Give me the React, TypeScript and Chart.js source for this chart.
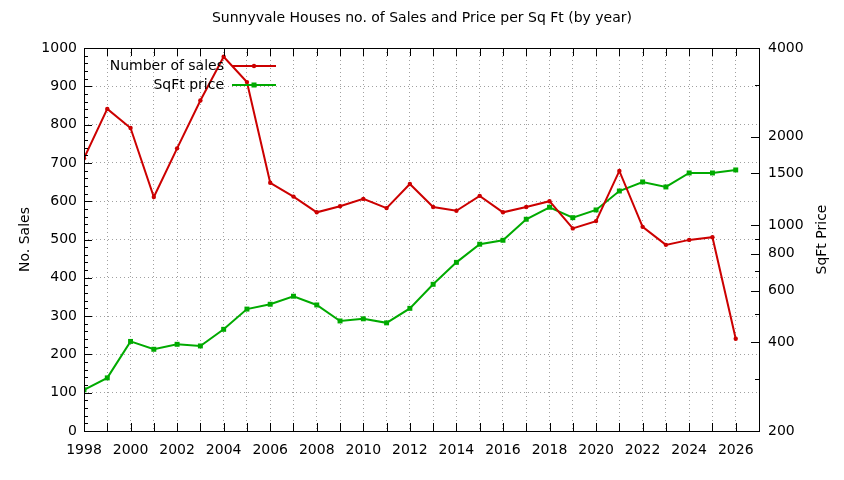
import React, { useRef, useEffect } from "react";
import { Chart, registerables } from "chart.js";

Chart.register(...registerables);

const years = [
  1998, 1999, 2000, 2001, 2002, 2003, 2004, 2005, 2006, 2007, 2008, 2009, 2010, 2011, 2012,
  2013, 2014, 2015, 2016, 2017, 2018, 2019, 2020, 2021, 2022, 2023, 2024, 2025, 2026,
];
const numberOfSales = [
  712, 841, 791, 611, 738, 863, 977, 911, 648, 612, 571, 587, 606, 582, 645,
  585, 575, 614, 571, 585, 600, 529, 548, 679, 533, 486, 499, 506, 241,
];
const sqftPrice = [
  276, 303, 403, 379, 394, 389, 443, 519, 539, 574, 536, 473, 481, 466, 522,
  630, 748, 862, 889, 1048, 1151, 1061, 1127, 1307, 1403, 1349, 1505, 1505, 1541,
];
const priceTicks = [200, 300, 400, 500, 600, 700, 800, 900, 1000, 1500, 2000, 3000, 4000];
const priceLabels = [200, 400, 600, 800, 1000, 1500, 2000, 4000];

const FONT = "DejaVu Sans";
const RED = "#cc0000";
const GREEN = "#00aa00";
const GRID = "#a0a0a0";

// gnuplot style frame: border box, inward ticks, axis titles, inner legend
const framePlugin = {
  id: "frame",
  afterDatasetsDraw(chart: any) {
    const { ctx, chartArea: a, scales } = chart;
    const px = (v: number) => Math.round(v) + 0.5;
    ctx.save();
    ctx.strokeStyle = "#000";
    ctx.lineWidth = 1;
    ctx.beginPath();
    // left axis ticks
    for (let v = 0; v <= 1000; v += 20) {
      const y = px(scales.y.getPixelForValue(v));
      ctx.moveTo(a.left, y);
      ctx.lineTo(a.left + (v % 100 === 0 ? 8 : 4), y);
    }
    // right axis ticks
    priceTicks.forEach((v) => {
      const y = px(scales.y1.getPixelForValue(v));
      ctx.moveTo(a.right, y);
      ctx.lineTo(a.right - (priceLabels.includes(v) ? 8 : 4), y);
    });
    // bottom and top ticks
    for (let yr = 1998; yr <= 2026; yr++) {
      const x = px(scales.x.getPixelForValue(yr));
      ctx.moveTo(x, a.bottom);
      ctx.lineTo(x, a.bottom - 8);
      ctx.moveTo(x, a.top);
      ctx.lineTo(x, a.top + 8);
    }
    ctx.stroke();
    ctx.strokeRect(px(a.left), px(a.top), Math.round(a.right - a.left), Math.round(a.bottom - a.top));

    // axis titles
    ctx.fillStyle = "#000";
    ctx.font = `14px "${FONT}"`;
    ctx.textAlign = "center";
    ctx.textBaseline = "middle";
    const midY = (a.top + a.bottom) / 2;
    ctx.save();
    ctx.translate(25, midY);
    ctx.rotate(-Math.PI / 2);
    ctx.fillText("No. Sales", 0, 0);
    ctx.restore();
    ctx.save();
    ctx.translate(822, midY);
    ctx.rotate(-Math.PI / 2);
    ctx.fillText("SqFt Price", 0, 0);
    ctx.restore();

    // legend
    ctx.textAlign = "right";
    chart.data.datasets.forEach((ds: any, i: number) => {
      const y = 66 + i * 19;
      ctx.fillStyle = "#000";
      ctx.fillText(ds.label, 224, y);
      ctx.strokeStyle = ds.borderColor;
      ctx.lineWidth = 2;
      ctx.beginPath();
      ctx.moveTo(232, y);
      ctx.lineTo(276, y);
      ctx.stroke();
      ctx.fillStyle = ds.borderColor;
      if (ds.pointStyle === "rect") {
        ctx.fillRect(251.5, y - 2.5, 5, 5);
      } else {
        ctx.beginPath();
        ctx.arc(254, y, 2.2, 0, Math.PI * 2);
        ctx.fill();
      }
    });
    ctx.restore();
  },
};

export default function App() {
  const chartRef = useRef<HTMLCanvasElement>(null);

  useEffect(() => {
    document.body.style.margin = "0";
    if (!chartRef.current) return;
    const chart = new Chart(chartRef.current, {
      type: "line",
      data: {
        datasets: [
          {
            label: "Number of sales",
            data: years.map((yr, i) => ({ x: yr, y: numberOfSales[i] })),
            borderColor: RED,
            backgroundColor: RED,
            borderWidth: 2,
            pointStyle: "circle",
            pointRadius: 2.2,
            pointBorderWidth: 0,
            tension: 0,
            yAxisID: "y",
          },
          {
            label: "SqFt price",
            data: years.map((yr, i) => ({ x: yr, y: sqftPrice[i] })),
            borderColor: GREEN,
            backgroundColor: GREEN,
            borderWidth: 2,
            pointStyle: "rect",
            pointRadius: 3.5,
            pointBorderWidth: 0,
            tension: 0,
            yAxisID: "y1",
          },
        ],
      },
      options: {
        responsive: false,
        animation: false,
        layout: { padding: 0 },
        plugins: {
          legend: { display: false },
          tooltip: { enabled: false },
          title: {
            display: true,
            text: "Sunnyvale Houses no. of Sales and Price per Sq Ft (by year)",
            color: "#000",
            font: { family: FONT, size: 14, weight: "normal" },
            padding: { top: 10, bottom: 21.2 },
          },
        },
        scales: {
          x: {
            type: "linear",
            position: "bottom",
            min: 1998,
            max: 2027,
            grid: { color: GRID, drawTicks: false },
            border: { display: false, dash: [1, 3] },
            ticks: {
              stepSize: 1,
              autoSkip: false,
              maxRotation: 0,
              padding: 11,
              color: "#000",
              font: { family: FONT, size: 14 },
              callback: (v: any) => (v % 2 === 0 && v <= 2026 ? String(v) : ""),
            },
            afterFit: (s: any) => {
              s.height = 49;
            },
          },
          y: {
            type: "linear",
            position: "left",
            min: 0,
            max: 1000,
            grid: { color: GRID, drawTicks: false },
            border: { display: false, dash: [1, 3] },
            ticks: {
              stepSize: 100,
              padding: 7,
              color: "#000",
              font: { family: FONT, size: 14 },
              callback: (v: any) => String(v),
            },
            afterFit: (s: any) => {
              s.width = 84;
            },
          },
          y1: {
            type: "logarithmic",
            position: "right",
            min: 200,
            max: 4000,
            grid: { drawOnChartArea: false, drawTicks: false },
            border: { display: false },
            afterBuildTicks: (s: any) => {
              s.ticks = priceTicks.map((v) => ({ value: v }));
            },
            ticks: {
              autoSkip: false,
              padding: 9,
              color: "#000",
              font: { family: FONT, size: 14 },
              callback: (v: any) => (priceLabels.includes(v) ? String(v) : ""),
            },
            afterFit: (s: any) => {
              s.width = 85;
            },
          },
        },
      },
      plugins: [framePlugin],
    });
    return () => {
      chart.destroy();
    };
  }, []);

  return (
    <div style={{ width: 844, height: 480, background: "#fff" }}>
      <canvas ref={chartRef} width={844} height={480} />
    </div>
  );
}
